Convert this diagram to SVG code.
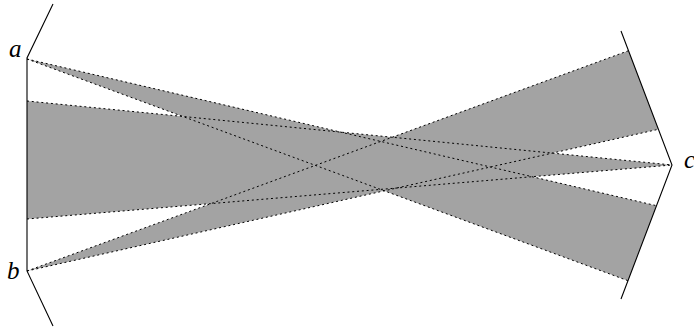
<svg xmlns="http://www.w3.org/2000/svg" width="694" height="327" viewBox="0 0 694 327">
<style>
.fill{fill:#a3a3a3;stroke:none}
.mirror{fill:none;stroke:#000;stroke-width:1.1;stroke-linejoin:miter}
.ray{fill:none;stroke:#000;stroke-width:1;stroke-dasharray:2 2.8}
.lbl{font-family:"Liberation Serif",serif;font-style:italic;font-size:25px;fill:#000}
</style>
<rect width="694" height="327" fill="#fff"/>
<g id="shading">
<polygon class="fill" points="27,59 656.5,205.7 628,280.7"/>
<polygon class="fill" points="27,271 628.5,50.7 658.4,129.3"/>
<polygon class="fill" points="27,101 672,165 27,219"/>
</g>
<g id="rays">
<line class="ray" x1="27" y1="59" x2="656.5" y2="205.7"/>
<line class="ray" x1="27" y1="59" x2="628" y2="280.7"/>
<line class="ray" x1="27" y1="271" x2="628.5" y2="50.7"/>
<line class="ray" x1="27" y1="271" x2="658.4" y2="129.3"/>
<line class="ray" x1="27" y1="101" x2="672" y2="165"/>
<line class="ray" x1="27" y1="219" x2="672" y2="165"/>
</g>
<g id="left-mirror">
<polyline class="mirror" points="53,4 27,58 27,271 53,326"/>
</g>
<g id="right-mirror">
<polyline class="mirror" points="621,31 672,165 621,299"/>
</g>
<g id="labels">
<text class="lbl" x="9" y="57">a</text>
<text class="lbl" x="7" y="279">b</text>
<text class="lbl" x="684" y="168">c</text>
</g>
</svg>
